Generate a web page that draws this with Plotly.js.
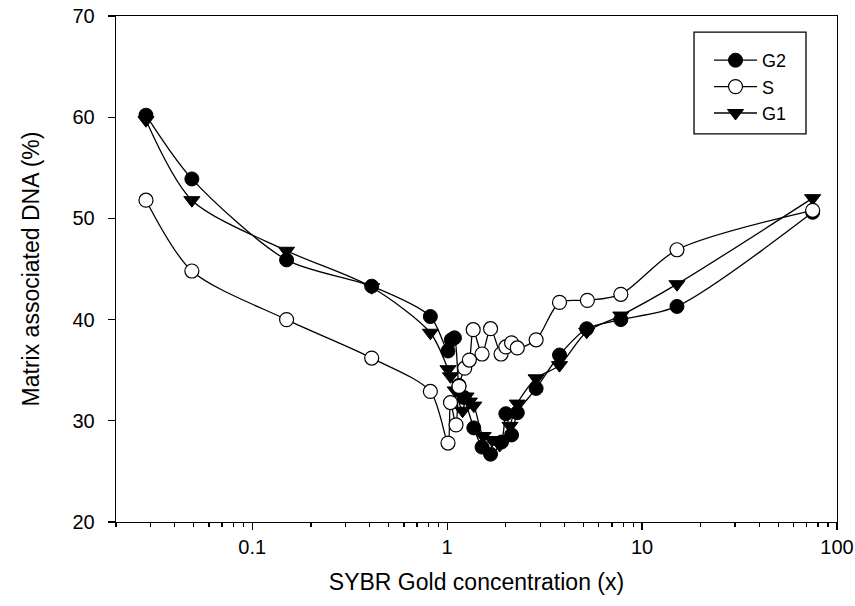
<!DOCTYPE html>
<html>
<head>
<meta charset="utf-8">
<script src="https://cdn.plot.ly/plotly-3.0.1.min.js"></script>
<style>html,body{margin:0;padding:0;background:#fff;}#chart{width:855px;height:606px;}</style>
</head>
<body>
<div id="chart"></div>
<script>
// Data
const g2X = [0.0285, 0.049, 0.15, 0.41, 0.82, 1.01, 1.05, 1.09, 1.15, 1.22, 1.37, 1.51, 1.67, 1.9, 2.0, 2.14, 2.29, 2.86, 3.77, 5.2, 7.78, 15.1, 75];
const g2Y = [60.2, 53.9, 45.9, 43.3, 40.3, 36.9, 38.0, 38.2, 33.5, 32.3, 29.3, 27.4, 26.7, 27.9, 30.7, 28.6, 30.8, 33.2, 36.5, 39.1, 40.0, 41.3, 50.6];

const sX = [0.0285, 0.049, 0.15, 0.41, 0.82, 1.01, 1.04, 1.11, 1.15, 1.23, 1.30, 1.36, 1.51, 1.67, 1.89, 2.0, 2.14, 2.29, 2.86, 3.77, 5.24, 7.78, 15.1, 75];
const sY = [51.8, 44.8, 40.0, 36.2, 32.9, 27.8, 31.8, 29.6, 33.4, 35.2, 36.0, 39.0, 36.6, 39.1, 36.6, 37.3, 37.7, 37.2, 38.0, 41.7, 41.9, 42.5, 46.9, 50.8];

const g1X = [0.0285, 0.049, 0.15, 0.41, 0.82, 1.01, 1.04, 1.1, 1.2, 1.25, 1.3, 1.37, 1.53, 1.7, 1.86, 1.95, 2.1, 2.29, 2.86, 3.77, 5.2, 7.78, 15.1, 75];
const g1Y = [59.7, 51.8, 46.8, 43.2, 38.7, 35.1, 34.4, 33.0, 31.0, 32.4, 31.9, 31.5, 28.5, 28.1, 27.6, 28.0, 29.5, 31.7, 34.2, 35.5, 38.8, 40.4, 43.5, 52.0];

const seriesNames = ['G2', 'S', 'G1'];
const xTitle = 'SYBR Gold concentration (x)';
const yTitle = 'Matrix associated DNA (%)';

const lineStyle = {color: '#000', width: 1.3, shape: 'spline', smoothing: 0.8};

const traces = [
  {x: g1X, y: g1Y, name: seriesNames[2], legendrank: 3, mode: 'lines+markers', line: lineStyle,
   marker: {symbol: 'triangle-down', size: 14, color: '#000', line: {color: '#000', width: 1}}},
  {x: g2X, y: g2Y, name: seriesNames[0], legendrank: 1, mode: 'lines+markers', line: lineStyle,
   marker: {symbol: 'circle', size: 14, color: '#000', line: {color: '#000', width: 1}}},
  {x: sX, y: sY, name: seriesNames[1], legendrank: 2, mode: 'lines+markers', line: lineStyle,
   marker: {symbol: 'circle', size: 14, color: '#fff', line: {color: '#000', width: 1.2}}}
];

const font = {family: 'Liberation Sans, Arial, sans-serif', color: '#000'};

const layout = {
  width: 855, height: 606,
  margin: {l: 116, r: 18, t: 16, b: 84},
  paper_bgcolor: '#fff', plot_bgcolor: '#fff',
  font: Object.assign({size: 20}, font),
  showlegend: true,
  legend: {x: 0.8225, y: 0.9486, xanchor: 'left', yanchor: 'top',
    borderwidth: 0, bgcolor: 'rgba(0,0,0,0)', itemwidth: 43,
    font: Object.assign({size: 18}, font), tracegroupgap: 0},
  shapes: [
    {type: 'rect', xref: 'paper', yref: 'paper', x0: 0.8017, x1: 0.957, y0: 0.767, y1: 0.968,
     line: {color: '#000', width: 1.3}, fillcolor: 'rgba(0,0,0,0)', layer: 'below'}
  ],
  xaxis: {
    type: 'log', range: [Math.log10(0.02), 2], dtick: 1,
    showgrid: false, zeroline: false, showline: true, linecolor: '#000', linewidth: 1.3,
    mirror: true, ticks: 'outside', ticklen: 7, tickwidth: 1.3, tickcolor: '#000',
    tickfont: Object.assign({size: 20}, font),
    minor: {dtick: 'D1', ticks: 'outside', ticklen: 4, tickwidth: 1.3, tickcolor: '#000', showgrid: false},
    title: {text: xTitle, font: Object.assign({size: 23}, font), standoff: 16}
  },
  yaxis: {
    range: [20, 70], dtick: 10,
    showgrid: false, zeroline: false, showline: true, linecolor: '#000', linewidth: 1.3,
    mirror: true, ticks: 'outside', ticklen: 7, tickwidth: 1.3, tickcolor: '#000',
    ticklabelstandoff: 9,
    tickfont: Object.assign({size: 20}, font),
    title: {text: yTitle, font: Object.assign({size: 23}, font), standoff: 26}
  }
};

Plotly.newPlot('chart', traces, layout, {staticPlot: true, displayModeBar: false});
</script>
</body>
</html>
